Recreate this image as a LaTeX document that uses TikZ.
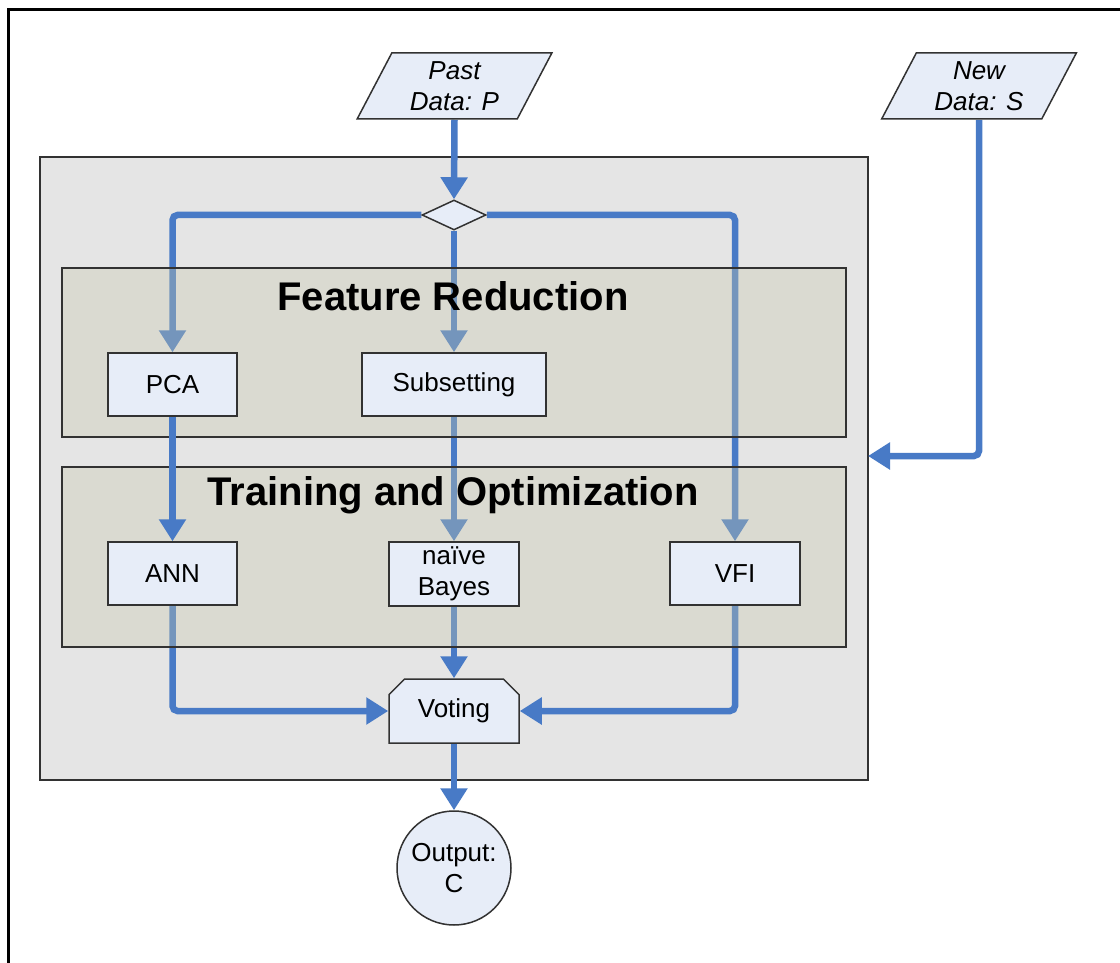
\documentclass[tikz,border=0pt]{standalone}
\usepackage{fontspec}
\setmainfont{Liberation Sans}
\usetikzlibrary{arrows.meta,shapes.geometric,shapes.misc}
\pgfdeclarelayer{bg}
\pgfdeclarelayer{arr}
\pgfdeclarelayer{pan}
\pgfsetlayers{bg,arr,pan,main}
\definecolor{flow}{RGB}{72,122,198}
\definecolor{boxfill}{RGB}{231,237,248}
\definecolor{panelgray}{RGB}{229,229,229}
\definecolor{stage}{RGB}{200,200,172}
\definecolor{edge}{RGB}{50,50,50}
\tikzset{
  flowarrow/.style={draw=flow, line width=6.5pt, rounded corners=5pt,
    -{Triangle[length=22pt,width=26pt]}},
  box/.style={draw=edge, line width=1.5pt, fill=boxfill,
    font=\fontsize{26}{31}\selectfont, align=center, inner sep=0pt},
  iobox/.style={box, trapezium, trapezium left angle=63.4,
    trapezium right angle=116.6, trapezium stretches=true,
    minimum width=195pt, minimum height=66pt,
    font=\fontsize{26}{31}\selectfont\itshape},
  stagepanel/.style={draw=edge, line width=1.5pt, fill=stage,
    fill opacity=0.35, inner sep=0pt},
  stagetitle/.style={font=\fontsize{40}{48}\selectfont\bfseries, inner sep=0pt},
}
\begin{document}
\begin{tikzpicture}[x=1pt,y=-1pt]
  \useasboundingbox (0,0) rectangle (1120,963);
  \clip (0,0) rectangle (1120,963);
  \begin{pgfonlayer}{bg}
    \fill[white] (0,0) rectangle (1120,963);
    \draw[line width=3pt] (8,1000) |- (1150,10);
    \node[draw=edge, line width=1.5pt, fill=panelgray, inner sep=0pt,
          minimum width=828pt, minimum height=623pt] (system) at (454,468.5) {};
  \end{pgfonlayer}

  % stage panels, drawn over the flow lines
  \begin{pgfonlayer}{pan}
    \node[stagepanel, minimum width=784pt, minimum height=169pt] (fr) at (454,352.5) {};
    \node[stagepanel, minimum width=784pt, minimum height=180pt] (tr) at (454,557) {};
    \node[stagetitle] (frtitle) at (453,296) {Feature Reduction};
    \node[stagetitle] (trtitle) at (453,495) {Training and Optimization};
  \end{pgfonlayer}

  % inputs
  \node[iobox] (pd) at (454.5,86) {Past\\Data: P};
  \node[iobox] (nd) at (979,86) {New\\Data: S};
  \node[draw=edge, line width=1.5pt, fill=boxfill, diamond, inner sep=0pt,
        minimum width=64pt, minimum height=30pt] (dia) at (454,215) {};

  % processing boxes
  \node[box, minimum width=129pt, minimum height=63pt] (pca) at (172.5,384.5) {PCA};
  \node[box, minimum width=184pt, minimum height=63pt] (sub) at (454,384.5) {Subsetting};
  \node[box, minimum width=129pt, minimum height=63pt] (ann) at (172.5,573.5) {ANN};
  \node[box, minimum width=130pt, minimum height=64pt] (nb) at (454,574) {naïve\\Bayes};
  \node[box, minimum width=130pt, minimum height=63pt] (vfi) at (735,573.5) {VFI};
  \node[box, chamfered rectangle, chamfered rectangle corners={north west,north east},
        chamfered rectangle xsep=15pt, chamfered rectangle angle=45,
        minimum width=130pt, minimum height=64pt] (vote) at (454,711) {Voting};
  \node[box, circle, minimum size=114pt] (out) at (454,868) {Output:\\C};
  \coordinate (ndin) at (868,456);

  % flow
  \begin{pgfonlayer}{arr}
    \draw[flowarrow] (pd.center |- pd.south) -- (dia.north);
    \draw[flowarrow] (dia.west) -| (pca.north);
    \draw[flowarrow] (dia.south) -- (sub.north);
    \draw[flowarrow] (dia.east) -| (vfi.north);
    \draw[flowarrow] (sub.south) -- (nb.north);
    \draw[flowarrow] (ann.south) |- (vote.west);
    \draw[flowarrow] (nb.south) -- (vote.north);
    \draw[flowarrow] (vfi.south) |- (vote.east);
    \draw[flowarrow] (vote.south) -- (out.north);
    \draw[flowarrow] (nd.center |- nd.south) |- (ndin);
  \end{pgfonlayer}
  \draw[flowarrow] (pca.south) -- (ann.north);
\end{tikzpicture}
\end{document}
